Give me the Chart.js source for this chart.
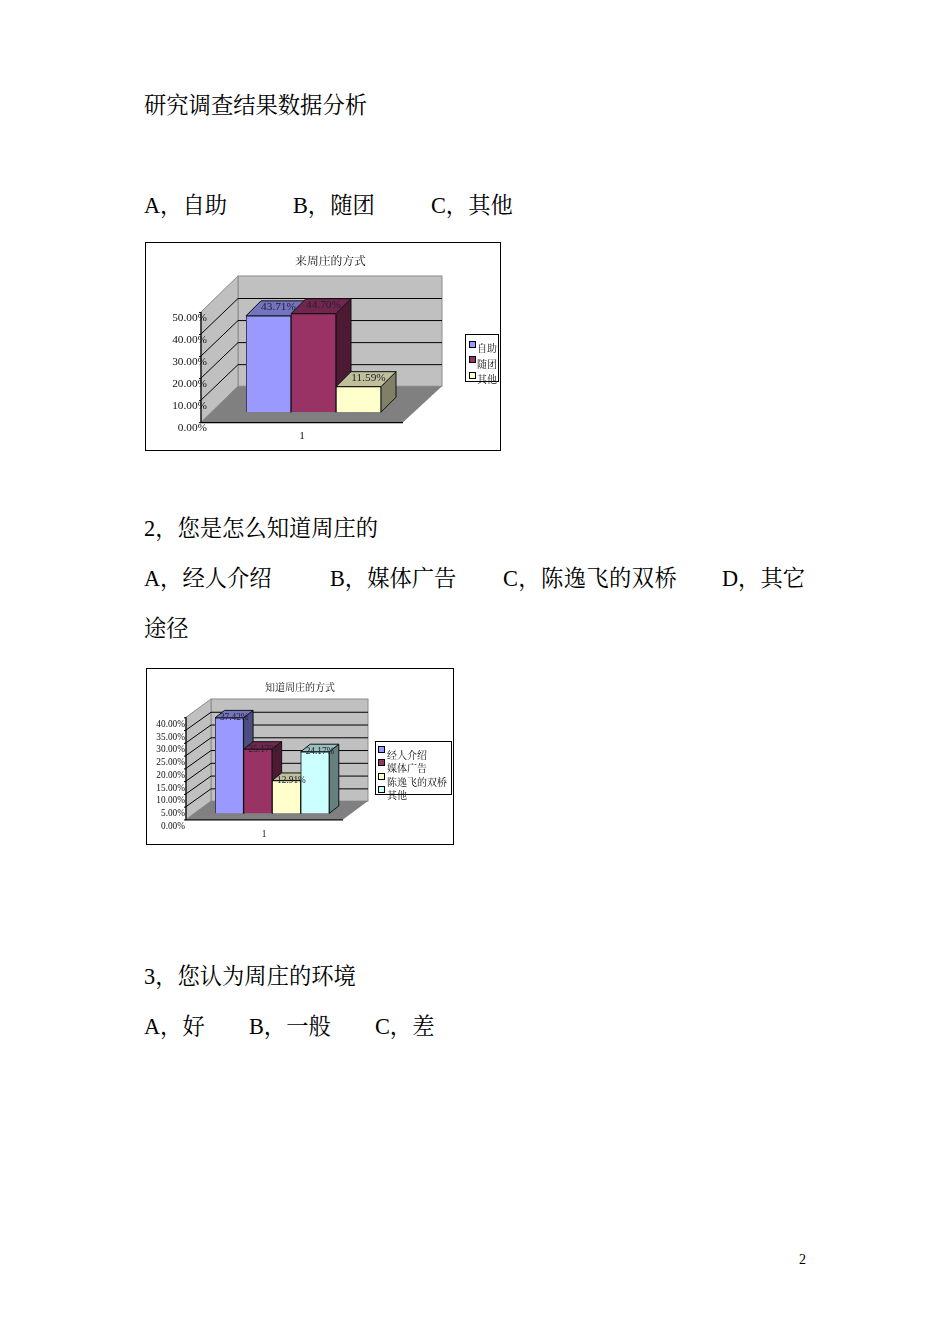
<!DOCTYPE html>
<html lang="zh"><head><meta charset="utf-8">
<script src="https://cdn.jsdelivr.net/npm/chart.js@4/dist/chart.umd.min.js"></script>
<style>
html,body{margin:0;padding:0;background:#fff}
#page{position:relative;width:950px;height:1344px;overflow:hidden;font-family:"Liberation Serif","Noto Serif CJK SC","Noto Sans CJK SC",serif;font-size:22.3px;color:#000}
#page span{position:absolute;white-space:nowrap;line-height:30px;transform:translateY(-14px)}
canvas{position:absolute}
</style></head><body>
<div id="page">
<span style="left:144px;top:105px">研究调查结果数据分析</span>
<span style="left:144px;top:205px">A，自助</span><span style="left:293px;top:205px">B，随团</span><span style="left:431px;top:205px">C，其他</span>
<canvas id="c1" width="371" height="216" style="left:145px;top:242px;width:371px;height:216px"></canvas>
<span style="left:144px;top:528px">2，您是怎么知道周庄的</span>
<span style="left:144px;top:578px">A，经人介绍</span><span style="left:330px;top:578px">B，媒体广告</span><span style="left:503px;top:578px;letter-spacing:.4px">C，陈逸飞的双桥</span><span style="left:722px;top:578px">D，其它</span>
<span style="left:144px;top:628px">途径</span>
<canvas id="c2" width="308" height="181" style="left:146px;top:668px;width:308px;height:181px"></canvas>
<span style="left:144px;top:976px">3，您认为周庄的环境</span>
<span style="left:144px;top:1026px">A，好</span><span style="left:249px;top:1026px">B，一般</span><span style="left:375px;top:1026px">C，差</span>
<span style="left:799px;top:1259px;font-size:14px">2</span>
</div>
<script>
const categories = ['1'];
const chart1Title = '来周庄的方式';
const chart1Labels = ['自助', '随团', '其他'];
const chart1Values = [43.71, 44.70, 11.59];
const chart2Title = '知道周庄的方式';
const chart2Labels = ['经人介绍', '媒体广告', '陈逸飞的双桥', '其他'];
const chart2Values = [37.42, 25.17, 12.91, 24.17];
const faceColors = ['#9999FF', '#993366', '#FFFFCC', '#CCFFFF'];
const topColors = ['#7373BF', '#73264D', '#BFBF99', '#99BFBF'];
const sideColors = ['#4D4D80', '#4D1A33', '#808066', '#668080'];

const NUM = '"Liberation Serif",serif';
const CJK = '"Noto Serif CJK SC","Noto Sans CJK SC",serif';

const scene = {
  id: 'scene',
  beforeDraw(chart, args, o) {
    const c = chart.ctx, y = chart.scales.y, a = chart.chartArea;
    c.save();
    c.fillStyle = '#fff'; c.strokeStyle = '#000'; c.lineWidth = 1;
    c.fillRect(0.5, 0.5, o.frameW, o.frameH);
    c.strokeRect(0.5, 0.5, o.frameW, o.frameH);
    const b0 = y.getPixelForValue(0), bM = y.getPixelForValue(y.max);
    const fx = a.left - o.frontDx, fd = o.frontDy, bx = fx + o.wallDx, bd = o.backDy;
    c.fillStyle = '#C0C0C0'; c.strokeStyle = '#8c8c8c';
    c.fillRect(bx, bM - bd, o.backW, b0 - bM);
    c.strokeRect(bx, bM - bd, o.backW, b0 - bM);
    c.beginPath(); c.moveTo(fx, bM + fd); c.lineTo(bx, bM - bd); c.lineTo(bx, b0 - bd); c.lineTo(fx, b0 + fd); c.closePath();
    c.fill(); c.stroke();
    c.fillStyle = '#808080';
    c.beginPath(); c.moveTo(fx, b0 + fd); c.lineTo(bx, b0 - bd); c.lineTo(bx + o.backW, b0 - bd); c.lineTo(fx + o.frontW, b0 + fd); c.closePath();
    c.fill();
    c.strokeStyle = '#000';
    y.ticks.forEach(t => {
      const p = y.getPixelForValue(t.value);
      if (t.value > 0 && t.value < y.max) {
        c.beginPath(); c.moveTo(bx + o.backW, p - bd + .5); c.lineTo(bx, p - bd + .5); c.lineTo(fx, p + fd); c.stroke();
      }
      c.beginPath(); c.moveTo(fx - 2, p + fd + .5); c.lineTo(fx, p + fd + .5); c.stroke();
    });
    c.lineWidth = 1.2;
    c.beginPath(); c.moveTo(fx, bM + fd); c.lineTo(fx, b0 + fd + .5); c.lineTo(fx + o.frontW, b0 + fd + .5); c.stroke();
    c.restore();
  },
  beforeDatasetsDraw(chart, args, o) {
    const c = chart.ctx;
    c.save(); c.strokeStyle = '#111'; c.lineWidth = 1;
    chart.data.datasets.forEach((ds, i) => {
      const b = chart.getDatasetMeta(i).data[0];
      const l = b.x - b.width / 2, r = b.x + b.width / 2, t = b.y, base = b.base;
      c.fillStyle = sideColors[i];
      c.beginPath(); c.moveTo(r, t); c.lineTo(r + o.barDx, t - o.barDy); c.lineTo(r + o.barDx, base - o.barDy); c.lineTo(r, base); c.closePath(); c.fill(); c.stroke();
      c.fillStyle = topColors[i];
      c.beginPath(); c.moveTo(l, t); c.lineTo(l + o.barDx, t - o.barDy); c.lineTo(r + o.barDx, t - o.barDy); c.lineTo(r, t); c.closePath(); c.fill(); c.stroke();
    });
    c.restore();
  },
  afterDatasetsDraw(chart, args, o) {
    const c = chart.ctx;
    c.save(); c.fillStyle = '#222233'; c.font = o.tickFont + 'px ' + NUM; c.textAlign = 'center'; c.textBaseline = 'middle';
    chart.data.datasets.forEach((ds, i) => {
      const b = chart.getDatasetMeta(i).data[0];
      c.fillText(ds.data[0].toFixed(2) + '%', b.x + o.lblDx, b.y + o.lblDy);
    });
    const L = o.legend;
    c.fillStyle = '#fff'; c.strokeStyle = '#000'; c.lineWidth = 1;
    c.fillRect(L.x + .5, L.y + .5, L.w, L.h); c.strokeRect(L.x + .5, L.y + .5, L.w, L.h);
    c.font = L.font + 'px ' + CJK; c.textAlign = 'left';
    chart.data.datasets.forEach((ds, i) => {
      c.fillStyle = ds.backgroundColor;
      c.fillRect(L.sx + .5, L.sy[i] + .5, L.s, L.s); c.strokeRect(L.sx + .5, L.sy[i] + .5, L.s, L.s);
      c.fillStyle = '#111';
      c.fillText(ds.label, L.tx, L.ty[i]);
    });
    c.restore();
  }
};

function build(id, title, labels, values, g) {
  new Chart(document.getElementById(id), {
    type: 'bar',
    plugins: [scene],
    data: {
      labels: categories,
      datasets: labels.map((l, i) => ({ label: l, data: [values[i]], backgroundColor: faceColors[i], borderColor: '#111', borderWidth: 1 }))
    },
    options: {
      responsive: false, animation: false, devicePixelRatio: 1,
      layout: { padding: 0 },
      datasets: { bar: { categoryPercentage: 1, barPercentage: 1 } },
      scales: {
        x: { grid: { display: false, drawTicks: false }, border: { display: false },
             ticks: { color: '#111', padding: g.xPad, labelOffset: g.xOff, font: { family: NUM, size: g.tickFont }, maxRotation: 0 },
             afterFit: s => { s.height = g.bottom; } },
        y: { min: 0, max: g.max, grid: { display: false, drawTicks: false }, border: { display: false },
             ticks: { stepSize: g.step, autoSkip: false, color: '#111', padding: g.yPad, labelOffset: g.yOff, font: { family: NUM, size: g.tickFont }, callback: v => v.toFixed(2) + '%' },
             afterFit: s => { s.width = g.left; } },
        spacer: { type: 'linear', position: 'right', grid: { display: false, drawTicks: false }, border: { display: false },
             ticks: { display: false }, afterFit: s => { s.width = g.padRight; } }
      },
      plugins: {
        legend: { display: false }, tooltip: { enabled: false },
        title: { display: true, text: title, color: '#111', font: { family: CJK, size: g.titleFont, weight: 'normal', lineHeight: 1.2 }, padding: { top: g.titleTop, bottom: g.titleBottom } },
        scene: g
      }
    }
  });
}

build('c1', chart1Title, chart1Labels, chart1Values, {
  frameW: 355, frameH: 208, padRight: 135, left: 101, bottom: 33, xPad: 17.5, xOff: -11.5, yPad: 39, yOff: 16,
  tickFont: 11.3, titleFont: 11.8, titleTop: 11, titleBottom: 34.8, max: 50, step: 10,
  frontDx: 45, frontDy: 10, backDy: 26, wallDx: 37, backW: 204, frontW: 202, barDx: 15, barDy: 15, lblDx: 10, lblDy: -8.5,
  legend: { x: 320, y: 92, w: 33, h: 47, sx: 324, sy: [99, 114, 130], s: 6, tx: 332, ty: [106, 122, 137], font: 10 }
});
build('c2', chart2Title, chart2Labels, chart2Values, {
  frameW: 307, frameH: 176, padRight: 124.7, left: 69, bottom: 26.4, xPad: 16, xOff: -8, yPad: 30, yOff: 13,
  tickFont: 9.3, titleFont: 10, titleTop: 13, titleBottom: 18.3, max: 40, step: 5,
  frontDx: 29, frontDy: 6, backDy: 12.3, wallDx: 25, backW: 157, frontW: 157, barDx: 9.5, barDy: 7.5, lblDx: 5, lblDy: 0,
  legend: { x: 229, y: 73, w: 76, h: 53, sx: 232, sy: [78, 91, 105, 118], s: 6, tx: 241, ty: [87, 100, 114, 127], font: 10 }
});
</script>
</body></html>
